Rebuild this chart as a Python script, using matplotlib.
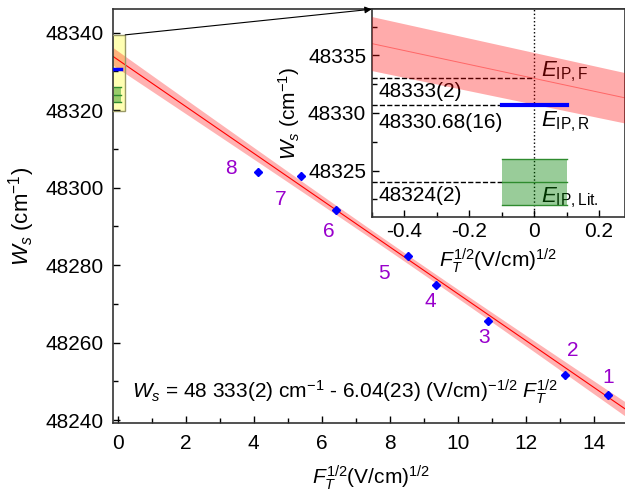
import numpy as np
import matplotlib
matplotlib.use("Agg")
import matplotlib.pyplot as plt
from matplotlib.patches import Rectangle, ConnectionPatch

plt.rcParams['font.family'] = ['Liberation Sans', 'DejaVu Sans']
plt.rcParams['mathtext.fontset'] = 'custom'
plt.rcParams['mathtext.rm'] = 'Liberation Sans'
plt.rcParams['mathtext.it'] = 'Liberation Sans:italic'
plt.rcParams['mathtext.bf'] = 'Liberation Sans:bold'

# measured points (sqrt field, series limit)
labels = ['1', '2', '3', '4', '5', '6', '7', '8']
f_sqrt = [14.42, 13.16, 10.88, 9.36, 8.53, 6.42, 5.40, 4.13]
w_s = [48246.4, 48251.6, 48265.5, 48275.0, 48282.4, 48294.2, 48303.1, 48304.1]
x_err = [0.1] * 8
y_err = [0.9] * 8
# label offsets in pixels
lab_dx = [0, 7, -4, -6, -24, -7, -21, -27]
lab_dy = [18, 25, -16, -17, -18, -21, -24, 3]

# linear fit W = a - b*F^(1/2)
fit_a = 48333.0
fit_b = 6.04
fit_db = 0.23
fit_s0 = 1.1     # band half width at mean field
fit_xm = 8.5     # mean field value

# reference energies
e_f, e_f_err = 48333.0, 2.0
e_r = 48330.68
e_lit, e_lit_err = 48324.0, 2.0

red = '#ff0000'
purple = '#9900cc'
fs = 15


def band(x):
    return np.sqrt(fit_s0**2 + fit_db**2 * (x - fit_xm)**2)


fig = plt.figure(figsize=(6.25, 4.93), dpi=100)
ax = fig.add_axes([0.1813, 0.1414, 0.8235, 0.8398])
ax.set_xlim(-0.13, 15)
ax.set_ylim(48239.2, 48346)

xx = np.linspace(-0.13, 15, 200)
yy = fit_a - fit_b * xx
ax.fill_between(xx, yy - band(xx), yy + band(xx), color=red, alpha=0.3, lw=0, zorder=2)
ax.plot(xx, yy, color=red, lw=0.8, zorder=2.5)

ax.errorbar(f_sqrt, w_s, xerr=x_err, yerr=y_err, fmt='D', ms=4, color='#0000ff',
            elinewidth=1, capsize=0, zorder=5)
for lab, x, y, dx, dy in zip(labels, f_sqrt, w_s, lab_dx, lab_dy):
    ax.annotate(lab, (x, y), xytext=(dx, dy), textcoords='offset pixels',
                ha='center', va='center', color=purple, fontsize=fs)

# zoom region marker
ax.add_patch(Rectangle((-0.25, 48319.8), 0.47, 19.6, facecolor='#ffff00', alpha=0.3,
                       edgecolor='none', zorder=1))
ax.add_patch(Rectangle((-0.25, 48319.8), 0.47, 19.6, facecolor='none',
                       edgecolor='#999966', lw=1, zorder=6))
ax.plot([-0.1, 0.1], [e_r, e_r], color='#0000ff', lw=2.5, zorder=4)
ax.add_patch(Rectangle((-0.1, e_lit - e_lit_err), 0.2, 2 * e_lit_err,
                       facecolor='#008000', alpha=0.4, edgecolor='none', zorder=4))
for yv in [e_lit - e_lit_err, e_lit, e_lit + e_lit_err]:
    ax.plot([-0.1, 0.1], [yv, yv], color='#2e8b2e', lw=1, zorder=4)

ax.text(0.036, 0.076,
        r'$W_s$ = 48 333(2) cm$^{-1}$ - 6.04(23) (V/cm)$^{-1/2}$ $F_T^{1/2}$',
        transform=ax.transAxes, fontsize=fs, va='center', ha='left')

ax.set_xticks(np.arange(0, 15, 2))
ax.set_xticks(np.arange(0, 15, 1), minor=True)
ax.set_yticks(np.arange(48240, 48341, 20))
ax.set_yticks(np.arange(48240, 48346, 10), minor=True)
ax.tick_params(direction='in', labelsize=fs, width=1, length=5, pad=7)
ax.tick_params(which='minor', direction='in', width=1, length=3.5)
ax.tick_params(axis='x', pad=8)
for s in ax.spines.values():
    s.set_linewidth(1.2)
    s.set_color('#333333')
ax.set_xlabel(r'$F_T^{1/2}$(V/cm)$^{1/2}$', fontsize=fs, labelpad=7)
ax.set_ylabel(r'$W_s$ (cm$^{-1}$)', fontsize=fs + 1, labelpad=6)

# inset
ins = fig.add_axes([0.5947, 0.5605, 0.4053, 0.4208])
ins.set_xlim(-0.5, 0.28)
ins.set_ylim(48321, 48339)
xi = np.linspace(-0.5, 0.28, 50)
yi = fit_a - fit_b * xi
ins.plot(xi, yi, color='#ff9999', lw=0.7, zorder=2)
ins.fill_between(xi, yi - band(xi), yi + band(xi), color=red, alpha=0.33, lw=0, zorder=5)
ins.axvline(0, color='k', ls=':', lw=1, zorder=3)
ins.plot([-0.5, 0], [e_f, e_f], color='k', ls='--', lw=1, zorder=3)
ins.plot([-0.5, -0.1], [e_r, e_r], color='k', ls='--', lw=1, zorder=3)
ins.plot([-0.5, -0.1], [e_lit, e_lit], color='k', ls='--', lw=1, zorder=3)
ins.plot([-0.1, 0.1], [e_r, e_r], color='#0000ff', lw=3, zorder=6)
ins.add_patch(Rectangle((-0.1, e_lit - e_lit_err), 0.2, 2 * e_lit_err,
                        facecolor='#008000', alpha=0.4, edgecolor='none', zorder=5))
for yv in [e_lit - e_lit_err, e_lit, e_lit + e_lit_err]:
    ins.plot([-0.1, 0.1], [yv, yv], color='#2e8b2e', lw=1, zorder=6)

ins.text(-0.48, 48331.9, '48333(2)', fontsize=fs, va='center', zorder=3)
ins.text(-0.48, 48329.2, '48330.68(16)', fontsize=fs, va='center', zorder=3)
ins.text(-0.48, 48322.8, '48324(2)', fontsize=fs, va='center', zorder=3)
ins.text(0.02, 48333.6, r'$E_{\mathrm{IP,F}}$', fontsize=fs + 1, va='center', zorder=3)
ins.text(0.02, 48329.2, r'$E_{\mathrm{IP,R}}$', fontsize=fs + 1, va='center', zorder=3)
ins.text(0.02, 48322.6, r'$E_{\mathrm{IP,Lit.}}$', fontsize=fs + 1, va='center', zorder=3)

ins.set_xticks([-0.4, -0.2, 0, 0.2])
ins.set_xticklabels(['-0.4', '-0.2', '0', '0.2'])
ins.set_xticks(np.arange(-0.5, 0.29, 0.1), minor=True)
ins.set_yticks([48325, 48330, 48335])
ins.set_yticks(np.arange(48322.5, 48339, 2.5), minor=True)
ins.tick_params(direction='in', labelsize=fs, width=1, length=5, pad=4)
ins.tick_params(which='minor', direction='in', width=1, length=3.5)
for s in ins.spines.values():
    s.set_linewidth(1.2)
    s.set_color('#333333')
ins.set_xlabel(r'$F_T^{1/2}$(V/cm)$^{1/2}$', fontsize=fs, labelpad=4)
ins.set_ylabel(r'$W_s$ (cm$^{-1}$)', fontsize=fs, labelpad=4)

con = ConnectionPatch(xyA=(0.22, 48339.4), coordsA=ax.transData,
                      xyB=(0, 1), coordsB=ins.transAxes,
                      arrowstyle='-|>', color='k', lw=0.8, mutation_scale=10)
fig.add_artist(con)

fig.savefig('out.png', dpi=100)
